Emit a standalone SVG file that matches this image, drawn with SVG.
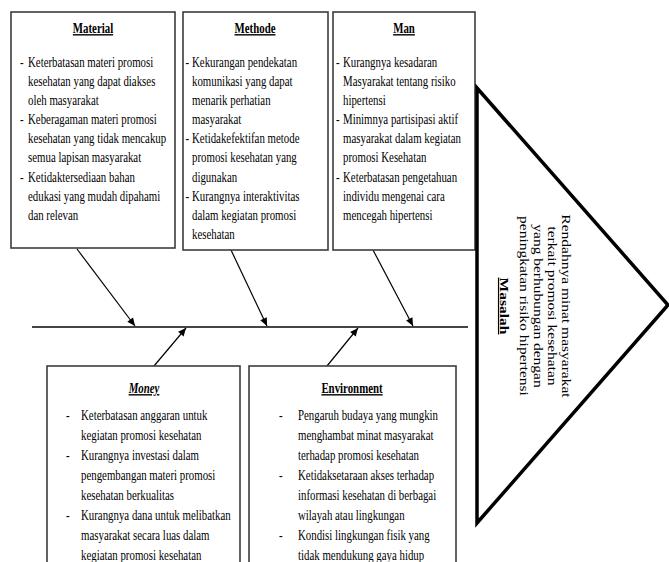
<svg xmlns="http://www.w3.org/2000/svg" width="669" height="562" viewBox="0 0 669 562">
<style>
.t{font-family:"Liberation Serif","Times New Roman",serif;font-size:14px;fill:#000}
.h{font-weight:bold;text-decoration:underline}
.box{fill:#fff;stroke:#3c3c3c;stroke-width:1.6}
.ar{stroke:#000;stroke-width:1.2;fill:none;marker-end:url(#ah)}
.tri{fill:#fff;stroke:#000;stroke-width:3.5;stroke-linejoin:miter}
.m{font-family:"Liberation Serif","Times New Roman",serif;font-size:15.5px;fill:#000;text-anchor:middle}
</style>
<defs>
<marker id="ah" viewBox="0 0 10 10" refX="10" refY="5" markerWidth="9" markerHeight="8" markerUnits="userSpaceOnUse" orient="auto"><path d="M0,0.5 L10,5 L0,9.5 z" fill="#000"/></marker>
</defs>
<rect width="669" height="562" fill="#fff"/>

<g id="connectors">
<line x1="32" y1="327" x2="468" y2="327" stroke="#444" stroke-width="2"/>
<line class="ar" x1="77" y1="249" x2="135" y2="326"/>
<line class="ar" x1="231" y1="250" x2="267" y2="326"/>
<line class="ar" x1="373" y1="250" x2="413" y2="326"/>
<line class="ar" x1="154" y1="366" x2="186" y2="328"/>
<line class="ar" x1="327" y1="366" x2="358" y2="328"/>
</g>

<g id="material">
<rect class="box" x="11" y="12" width="164" height="236"/>
<text class="t h" text-anchor="middle" transform="matrix(0.775 0 0 1 93 33)">Material</text>
<g transform="matrix(0.775 0 0 1 20 0)" class="t"><text y="67">-</text><text y="124.3">-</text><text y="181.6">-</text></g>
<g transform="matrix(0.775 0 0 1 28 0)" class="t">
<text y="67">Keterbatasan materi promosi</text>
<text y="86.1">kesehatan yang dapat diakses</text>
<text y="105.2">oleh masyarakat</text>
<text y="124.3">Keberagaman materi promosi</text>
<text y="143.4">kesehatan yang tidak mencakup</text>
<text y="162.5">semua lapisan masyarakat</text>
<text y="181.6">Ketidaktersediaan bahan</text>
<text y="200.7">edukasi yang mudah dipahami</text>
<text y="219.8">dan relevan</text>
</g>
</g>

<g id="methode">
<rect class="box" x="183" y="12" width="145" height="238"/>
<text class="t h" text-anchor="middle" transform="matrix(0.775 0 0 1 255 33)">Methode</text>
<g transform="matrix(0.775 0 0 1 185.5 0)" class="t"><text y="67">-</text><text y="143.4">-</text><text y="200.7">-</text></g>
<g transform="matrix(0.775 0 0 1 192 0)" class="t">
<text y="67">Kekurangan pendekatan</text>
<text y="86.1">komunikasi yang dapat</text>
<text y="105.2">menarik perhatian</text>
<text y="124.3">masyarakat</text>
<text y="143.4">Ketidakefektifan metode</text>
<text y="162.5">promosi kesehatan yang</text>
<text y="181.6">digunakan</text>
<text y="200.7">Kurangnya interaktivitas</text>
<text y="219.8">dalam kegiatan promosi</text>
<text y="238.9">kesehatan</text>
</g>
</g>

<g id="man">
<rect class="box" x="333" y="12" width="142" height="238"/>
<text class="t h" text-anchor="middle" transform="matrix(0.775 0 0 1 404 33)">Man</text>
<g transform="matrix(0.775 0 0 1 336 0)" class="t"><text y="67">-</text><text y="124.3">-</text><text y="181.6">-</text></g>
<g transform="matrix(0.775 0 0 1 343 0)" class="t">
<text y="67">Kurangnya kesadaran</text>
<text y="86.1">Masyarakat tentang risiko</text>
<text y="105.2">hipertensi</text>
<text y="124.3">Minimnya partisipasi aktif</text>
<text y="143.4">masyarakat dalam kegiatan</text>
<text y="162.5">promosi Kesehatan</text>
<text y="181.6">Keterbatasan pengetahuan</text>
<text y="200.7">individu mengenai cara</text>
<text y="219.8">mencegah hipertensi</text>
</g>
</g>

<g id="money">
<rect class="box" x="47" y="366" width="193" height="206"/>
<text class="t h" text-anchor="middle" font-style="italic" transform="matrix(0.775 0 0 1 144 393)">Money</text>
<g transform="matrix(0.775 0 0 1 66 0)" class="t"><text y="420">-</text><text y="460">-</text><text y="520">-</text></g>
<g transform="matrix(0.775 0 0 1 81 0)" class="t">
<text y="420">Keterbatasan anggaran untuk</text>
<text y="440">kegiatan promosi kesehatan</text>
<text y="460">Kurangnya investasi dalam</text>
<text y="480">pengembangan materi promosi</text>
<text y="500">kesehatan berkualitas</text>
<text y="520">Kurangnya dana untuk melibatkan</text>
<text y="540">masyarakat secara luas dalam</text>
<text y="560">kegiatan promosi kesehatan</text>
</g>
</g>

<g id="environment">
<rect class="box" x="249" y="366" width="207" height="206"/>
<text class="t h" text-anchor="middle" transform="matrix(0.775 0 0 1 352 393)">Environment</text>
<g transform="matrix(0.775 0 0 1 279 0)" class="t"><text y="420">-</text><text y="480">-</text><text y="540">-</text></g>
<g transform="matrix(0.775 0 0 1 298 0)" class="t">
<text y="420">Pengaruh budaya yang mungkin</text>
<text y="440">menghambat minat masyarakat</text>
<text y="460">terhadap promosi kesehatan</text>
<text y="480">Ketidaksetaraan akses terhadap</text>
<text y="500">informasi kesehatan di berbagai</text>
<text y="520">wilayah atau lingkungan</text>
<text y="540">Kondisi lingkungan fisik yang</text>
<text y="560">tidak mendukung gaya hidup</text>
</g>
</g>

<g id="masalah">
<polygon class="tri" points="477,88 668,305 477,523"/>
<text class="m" transform="translate(562 306) rotate(90) scale(1 0.775)">Rendahnya minat masyarakat</text>
<text class="m" transform="translate(548 306) rotate(90) scale(1 0.775)">terkait promosi kesehatan</text>
<text class="m" transform="translate(534 306) rotate(90) scale(1 0.775)">yang berhubungan dengan</text>
<text class="m" transform="translate(520 306) rotate(90) scale(1 0.775)">peningkatan risiko hipertensi</text>
<text class="m" font-weight="bold" text-decoration="underline" transform="translate(500 306) rotate(90) scale(1 0.775)">Masalah</text>
</g>
</svg>
